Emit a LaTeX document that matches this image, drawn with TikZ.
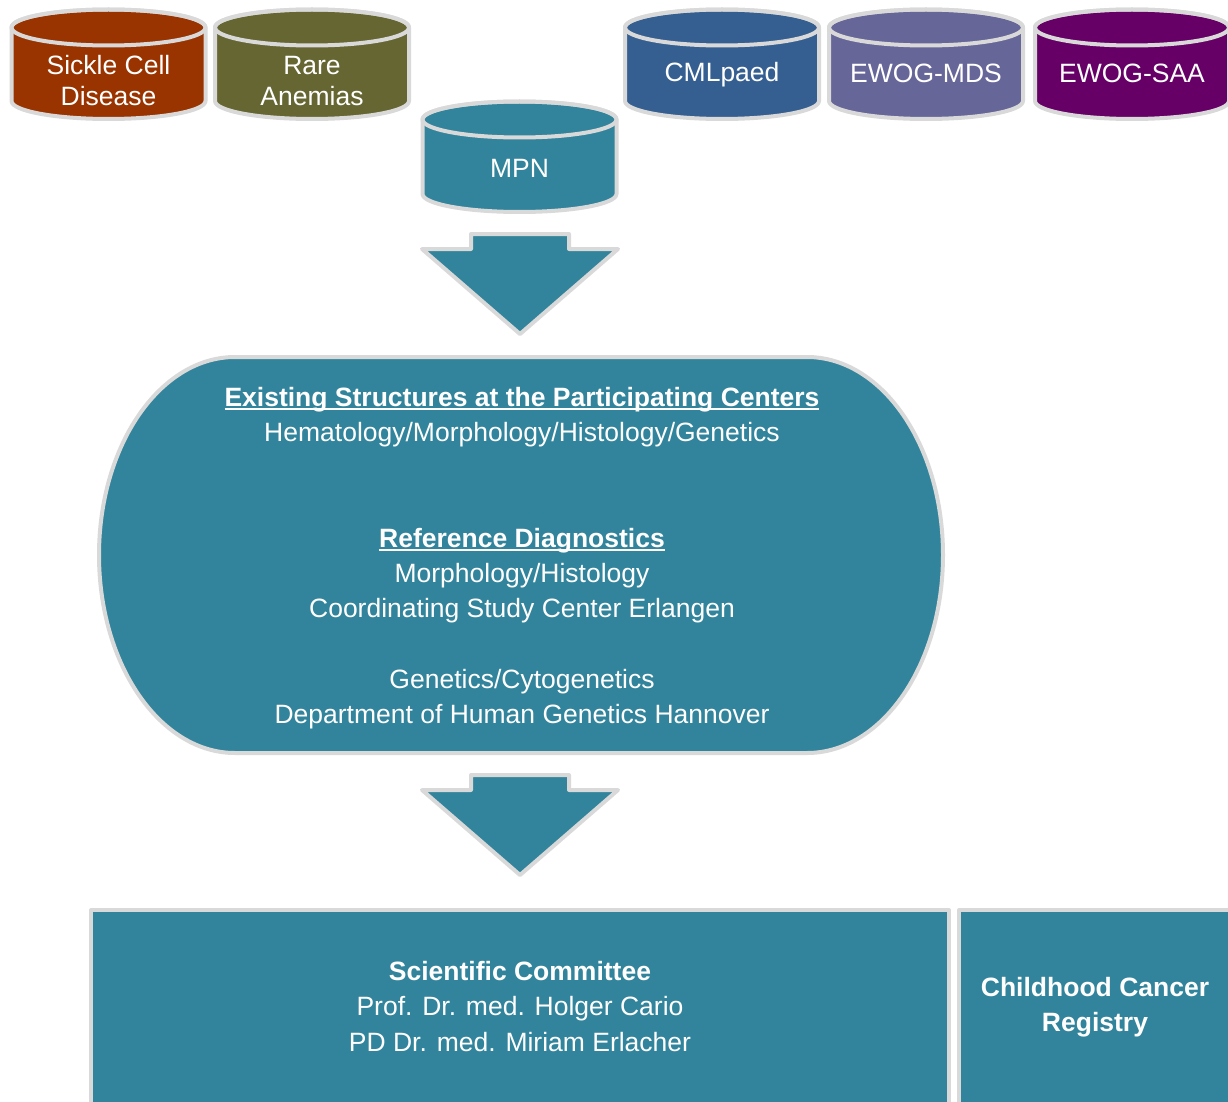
\documentclass[tikz,border=0pt]{standalone}
\usepackage{fontspec}
\setmainfont{Liberation Sans}
\definecolor{rimgray}{HTML}{D9D9D9}
\definecolor{teal}{HTML}{31849B}
\definecolor{sickle}{HTML}{993300}
\definecolor{olive}{HTML}{666633}
\definecolor{cmlblue}{HTML}{365F91}
\definecolor{mdsviolet}{HTML}{666699}
\definecolor{saaplum}{HTML}{660066}
% underline drawn as a rule of chosen thickness
\newcommand\ulx[1]{\setbox0\hbox{#1}\rlap{\copy0}\rule[-4pt]{\wd0}{2pt}}
% database cylinder: name, centre x, top-ellipse y, bottom-ellipse y, colour, text y, text
\newcommand\dbcyl[7]{%
  \filldraw[rim, fill=#5] (#2-97,-#3) -- (#2-97,-#4)
    arc[start angle=180,end angle=360,x radius=97pt,y radius=18pt]
    -- (#2+97,-#3)
    arc[start angle=0,end angle=180,x radius=97pt,y radius=18pt] -- cycle;
  \draw[rim] (#2,-#3) ellipse[x radius=97pt,y radius=18pt];
  \node[lbl] (#1) at (#2,-#6) {#7};}
\begin{document}
\begin{tikzpicture}[x=1pt,y=1pt,
  rim/.style={draw=rimgray, line width=4pt, line join=round},
  lbl/.style={text=white, align=center, inner sep=0pt,
    font=\fontsize{26.5}{31}\selectfont},
  bodytext/.style={lbl, font=\fontsize{26.5}{35.25}\selectfont}]
\clip (0,0) rectangle (1228,-1102);

% source registries
\dbcyl{scd}{108.5}{27.5}{101}{sickle}{81}{Sickle Cell\\Disease}
\dbcyl{rare}{312}{27.5}{101}{olive}{81}{Rare\\Anemias}
\dbcyl{cml}{722}{27.5}{101}{cmlblue}{75}{CMLpaed}
\dbcyl{mds}{926}{27.5}{101}{mdsviolet}{73}{EWOG-MDS}
\dbcyl{saa}{1132}{27.5}{101}{saaplum}{73}{EWOG-SAA}
\dbcyl{mpn}{519.5}{119.5}{194}{teal}{168}{MPN}

% block arrow into the centres
\filldraw[rim, fill=teal] (471,-234) -- (569,-234) -- (569,-249) -- (618,-249)
  -- (520,-334) -- (422,-249) -- (471,-249) -- cycle;

% centres and reference diagnostics
\filldraw[rim, fill=teal] (235,-357) -- (807,-357)
  arc[start angle=90,end angle=-90,x radius=136pt,y radius=198pt]
  -- (235,-753)
  arc[start angle=270,end angle=90,x radius=136pt,y radius=198pt] -- cycle;
\node[bodytext] (hub) at (522,-558) {%
  \textbf{\ulx{Existing Structures at the Participating Centers}}\\
  Hematology/Morphology/Histology/Genetics\\[70.5pt]
  \textbf{\ulx{Reference Diagnostics}}\\
  Morphology/Histology\\
  Coordinating Study Center Erlangen\\[35.25pt]
  Genetics/Cytogenetics\\
  Department of Human Genetics Hannover};

% block arrow into the committee
\filldraw[rim, fill=teal] (471,-775) -- (569,-775) -- (569,-790) -- (618,-790)
  -- (520,-875) -- (422,-790) -- (471,-790) -- cycle;

% committee and registry
\filldraw[rim, fill=teal] (91,-1130) -- (91,-910) -- (949,-910) -- (949,-1130);
\node[bodytext] (sc) at (520,-1006.5) {%
  \textbf{Scientific Committee}\\
  Prof. Dr. med. Holger Cario\\
  PD Dr. med. Miriam Erlacher};
\filldraw[rim, fill=teal] (959,-1130) -- (959,-910) -- (1240,-910) -- (1240,-1130);
\node[bodytext] (ccr) at (1095,-1007) {%
  \textbf{Childhood Cancer}\\
  \textbf{Registry}};
\end{tikzpicture}
\end{document}
